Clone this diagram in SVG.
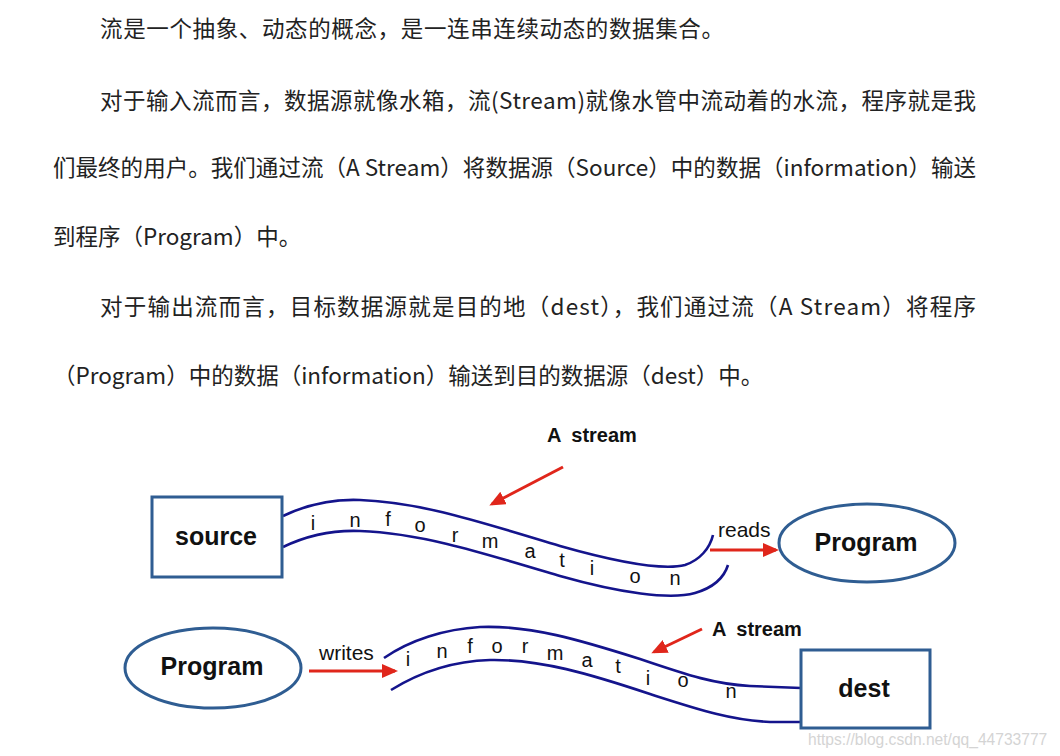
<svg xmlns="http://www.w3.org/2000/svg" width="1060" height="756" viewBox="0 0 1060 756">
<style>
.para{font-family:"Noto Sans CJK SC","Noto Sans",sans-serif;font-size:22.5px;fill:#222}
.box{fill:#fff;stroke:#2F5D92;stroke-width:3}
.lbl{font-family:"Liberation Sans",Arial,sans-serif;font-weight:bold;font-size:25px;fill:#111;text-anchor:middle}
.pipe{fill:none;stroke:#14148C;stroke-width:2.6}
.red{fill:none;stroke:#E0261B;stroke-width:3}
.lt{font-family:"Liberation Sans",Arial,sans-serif;font-size:20px;fill:#111;text-anchor:middle}
.note{font-family:"Liberation Sans",Arial,sans-serif;font-size:21px;fill:#111}
.strm{font-family:"Liberation Sans",Arial,sans-serif;font-weight:bold;font-size:20px;fill:#111;word-spacing:5px}
</style>
<defs>
<marker id="ah" markerUnits="userSpaceOnUse" viewBox="0 0 16 14" refX="13" refY="7" markerWidth="16" markerHeight="14" orient="auto">
<path d="M0,0 L16,7 L0,14 z" fill="#E0261B"/>
</marker>
</defs>
<rect width="1060" height="756" fill="#fff"/>
<g id="paragraph">
<text class="para" x="100" y="37" textLength="624" lengthAdjust="spacing">流是一个抽象、动态的概念，是一连串连续动态的数据集合。</text>
<text class="para" x="100" y="109" textLength="876" lengthAdjust="spacing">对于输入流而言，数据源就像水箱，流(Stream)就像水管中流动着的水流，程序就是我</text>
<text class="para" x="53" y="176" textLength="923" lengthAdjust="spacing">们最终的用户。我们通过流（A Stream）将数据源（Source）中的数据（information）输送</text>
<text class="para" x="53" y="245">到程序（Program）中。</text>
<text class="para" x="100" y="315" textLength="876" lengthAdjust="spacing">对于输出流而言，目标数据源就是目的地（dest），我们通过流（A Stream）将程序</text>
<text class="para" x="53" y="384">（Program）中的数据（information）输送到目的数据源（dest）中。</text>
</g>
<g id="connectors">
<path class="pipe" d="M283,516 C310,503 335,499 360,500 C420,502 480,522 560,546 C620,563 665,570 685,565 C700,560 710,548 713,535"/>
<path class="pipe" d="M283,547 C310,534 335,530 360,531 C420,533 480,552 560,576 C620,593 670,600 695,593 C712,588 724,578 728,565"/>
<path class="pipe" d="M384,658 C410,640 445,629 480,627 C530,625 580,640 640,659 C690,676 715,684 750,686 L801,688"/>
<path class="pipe" d="M391,690 C420,672 455,661 490,660 C540,659 590,674 650,694 C700,710 730,720 770,722 L801,722"/>
<line class="red" x1="563" y1="467" x2="492" y2="504" marker-end="url(#ah)"/>
<line class="red" x1="710" y1="550" x2="776" y2="550" marker-end="url(#ah)"/>
<line class="red" x1="309" y1="671" x2="395" y2="671" marker-end="url(#ah)"/>
<line class="red" x1="702" y1="629" x2="654" y2="652" marker-end="url(#ah)"/>
</g>
<g id="source">
<rect class="box" x="152" y="497" width="130" height="80"/>
<text class="lbl" x="216" y="545">source</text>
</g>
<g id="program-read">
<ellipse class="box" cx="867" cy="543" rx="88" ry="39"/>
<text class="lbl" x="866" y="551">Program</text>
</g>
<g id="program-write">
<ellipse class="box" cx="213" cy="668" rx="88" ry="40"/>
<text class="lbl" x="212" y="675">Program</text>
</g>
<g id="dest">
<rect class="box" x="801" y="650" width="129" height="78"/>
<text class="lbl" x="864" y="697">dest</text>
</g>
<g id="labels">
<text class="strm" x="547" y="442">A stream</text>
<text class="strm" x="712" y="636">A stream</text>
<text class="note" x="718" y="537">reads</text>
<text class="note" x="319" y="660">writes</text>
<g id="info-top">
<text class="lt" x="313" y="530">i</text>
<text class="lt" x="355" y="527">n</text>
<text class="lt" x="388" y="526">f</text>
<text class="lt" x="420" y="532">o</text>
<text class="lt" x="455" y="542">r</text>
<text class="lt" x="490" y="548">m</text>
<text class="lt" x="530" y="558">a</text>
<text class="lt" x="562" y="567">t</text>
<text class="lt" x="592" y="575">i</text>
<text class="lt" x="635" y="583">o</text>
<text class="lt" x="675" y="585">n</text>
</g>
<g id="info-bottom">
<text class="lt" x="408" y="666">i</text>
<text class="lt" x="442" y="658">n</text>
<text class="lt" x="470" y="653">f</text>
<text class="lt" x="497" y="653">o</text>
<text class="lt" x="525" y="653">r</text>
<text class="lt" x="555" y="660">m</text>
<text class="lt" x="587" y="667">a</text>
<text class="lt" x="618" y="673">t</text>
<text class="lt" x="648" y="685">i</text>
<text class="lt" x="683" y="687">o</text>
<text class="lt" x="731" y="698">n</text>
</g>
</g>
<text x="808" y="745" style="font-family:'Liberation Sans',Arial,sans-serif;font-size:15.6px;fill:#d4d4d4">https://blog.csdn.net/qq_44733777</text>
</svg>
